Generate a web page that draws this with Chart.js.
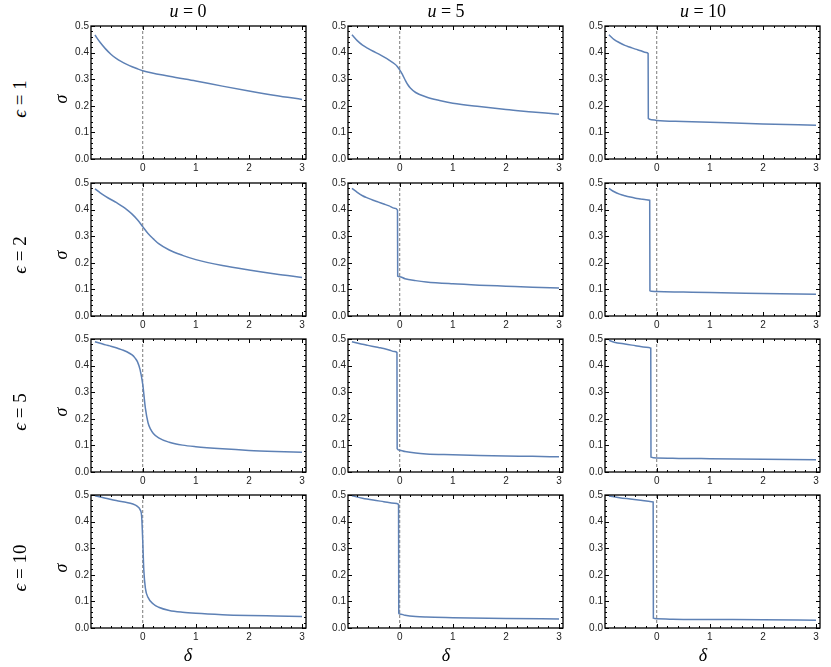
<!DOCTYPE html>
<html>
<head>
<meta charset="utf-8">
<script src="https://cdn.jsdelivr.net/npm/chart.js@4.4.1/dist/chart.umd.min.js"></script>
<style>
    body { margin: 0; background: #fff; }
    #page { position: relative; width: 831px; height: 667px; overflow: hidden; }
    .panel { position: absolute; }
    .lbl {
        position: absolute;
        font-family: "Liberation Serif", "DejaVu Serif", serif;
        font-size: 17px;
        color: #000;
        white-space: nowrap;
        transform: translate(-50%, -50%);
    }
    .rot { transform: translate(-50%, -50%) rotate(-90deg); }
</style>
</head>
<body>
<div id="page"></div>
<script>
// column / row parameters
const uValues = [0, 5, 10];
const epsValues = [1, 2, 5, 10];

// tick labels
const xTickValues = [0, 1, 2, 3];
const yTickValues = [0, 0.1, 0.2, 0.3, 0.4, 0.5];

// sigma(delta) curves, one pair of arrays per panel
const deltaE1U0 = [-0.9, -0.8, -0.7, -0.6, -0.5, -0.4, -0.3, -0.2, -0.1, 0, 0.5, 1, 1.5, 2, 2.5, 3];
const sigmaE1U0 = [0.466, 0.438, 0.414, 0.394, 0.378, 0.366, 0.356, 0.347, 0.339, 0.332, 0.311, 0.293, 0.274, 0.256, 0.239, 0.224];

const deltaE1U5 = [-0.9, -0.8, -0.7, -0.6, -0.5, -0.4, -0.3, -0.2, -0.1, -0.05, 0, 0.05, 0.1, 0.15, 0.2, 0.3, 0.5, 0.75, 1, 1.5, 2, 2.5, 3];
const sigmaE1U5 = [0.467, 0.445, 0.428, 0.416, 0.405, 0.395, 0.384, 0.372, 0.358, 0.349, 0.335, 0.318, 0.298, 0.28, 0.267, 0.25, 0.233, 0.22, 0.21, 0.197, 0.186, 0.177, 0.168];

const deltaE1U10 = [-0.9, -0.8, -0.7, -0.6, -0.5, -0.4, -0.3, -0.2, -0.162, -0.158, -0.1, 0, 0.5, 1, 2, 3];
const sigmaE1U10 = [0.467, 0.449, 0.437, 0.427, 0.42, 0.413, 0.407, 0.4, 0.397, 0.152, 0.148, 0.145, 0.141, 0.138, 0.132, 0.127];

const deltaE2U0 = [-0.9, -0.8, -0.7, -0.6, -0.5, -0.4, -0.3, -0.2, -0.1, 0, 0.1, 0.2, 0.3, 0.5, 0.75, 1, 1.5, 2, 2.5, 3];
const sigmaE2U0 = [0.478, 0.463, 0.45, 0.438, 0.427, 0.414, 0.4, 0.383, 0.362, 0.336, 0.31, 0.29, 0.272, 0.248, 0.228, 0.212, 0.19, 0.173, 0.158, 0.145];

const deltaE2U5 = [-0.9, -0.8, -0.7, -0.6, -0.5, -0.4, -0.3, -0.2, -0.1, -0.042, -0.038, 0, 0.1, 0.3, 0.5, 1, 1.5, 2, 2.5, 3];
const sigmaE2U5 = [0.48, 0.465, 0.452, 0.443, 0.435, 0.428, 0.421, 0.414, 0.405, 0.398, 0.15, 0.148, 0.14, 0.133, 0.128, 0.121, 0.116, 0.112, 0.108, 0.105];

const deltaE2U10 = [-0.9, -0.8, -0.7, -0.6, -0.5, -0.4, -0.3, -0.2, -0.132, -0.128, -0.1, 0, 0.5, 1, 2, 3];
const sigmaE2U10 = [0.48, 0.467, 0.458, 0.452, 0.447, 0.443, 0.44, 0.437, 0.435, 0.095, 0.093, 0.092, 0.09, 0.088, 0.085, 0.082];

const deltaE5U0 = [-0.9, -0.8, -0.7, -0.6, -0.5, -0.4, -0.3, -0.2, -0.15, -0.1, -0.05, 0, 0.05, 0.1, 0.15, 0.2, 0.3, 0.5, 0.75, 1, 1.5, 2, 2.5, 3];
const sigmaE5U0 = [0.49, 0.484, 0.478, 0.473, 0.467, 0.46, 0.452, 0.44, 0.43, 0.415, 0.385, 0.33, 0.24, 0.185, 0.16, 0.145, 0.128, 0.112, 0.101, 0.095, 0.087, 0.081, 0.077, 0.074];

const deltaE5U5 = [-0.9, -0.8, -0.7, -0.6, -0.5, -0.4, -0.3, -0.2, -0.1, -0.052, -0.048, 0, 0.1, 0.3, 0.5, 1, 1.5, 2, 2.5, 3];
const sigmaE5U5 = [0.49, 0.485, 0.48, 0.476, 0.472, 0.468, 0.464, 0.459, 0.453, 0.449, 0.088, 0.082, 0.077, 0.071, 0.068, 0.065, 0.062, 0.06, 0.059, 0.057];

const deltaE5U10 = [-0.9, -0.8, -0.6, -0.4, -0.2, -0.112, -0.108, 0, 0.5, 1, 2, 3];
const sigmaE5U10 = [0.495, 0.488, 0.481, 0.475, 0.469, 0.466, 0.056, 0.053, 0.051, 0.05, 0.048, 0.046];

const deltaE10U0 = [-0.9, -0.7, -0.5, -0.3, -0.2, -0.1, -0.05, -0.02, 0, 0.02, 0.05, 0.1, 0.2, 0.3, 0.5, 0.75, 1, 1.5, 2, 2.5, 3];
const sigmaE10U0 = [0.497, 0.488, 0.479, 0.472, 0.467, 0.457, 0.445, 0.42, 0.33, 0.22, 0.15, 0.115, 0.09, 0.078, 0.066, 0.059, 0.055, 0.05, 0.047, 0.045, 0.043];

const deltaE10U5 = [-0.9, -0.7, -0.5, -0.3, -0.1, -0.022, -0.018, 0, 0.1, 0.3, 0.5, 1, 2, 3];
const sigmaE10U5 = [0.497, 0.488, 0.481, 0.475, 0.469, 0.465, 0.056, 0.053, 0.048, 0.043, 0.041, 0.039, 0.036, 0.034];

const deltaE10U10 = [-0.9, -0.7, -0.5, -0.3, -0.1, -0.067, -0.063, 0, 0.3, 1, 2, 3];
const sigmaE10U10 = [0.496, 0.49, 0.485, 0.48, 0.475, 0.474, 0.037, 0.035, 0.033, 0.032, 0.031, 0.029];

// rows follow epsValues, columns follow uValues
const panels = [
    [[deltaE1U0, sigmaE1U0], [deltaE1U5, sigmaE1U5], [deltaE1U10, sigmaE1U10]],
    [[deltaE2U0, sigmaE2U0], [deltaE2U5, sigmaE2U5], [deltaE2U10, sigmaE2U10]],
    [[deltaE5U0, sigmaE5U0], [deltaE5U5, sigmaE5U5], [deltaE5U10, sigmaE5U10]],
    [[deltaE10U0, sigmaE10U0], [deltaE10U5, sigmaE10U5], [deltaE10U10, sigmaE10U10]],
];

// layout (frame positions in page pixels)
const frameLefts = [91, 348, 605];
const frameTops = [26, 183, 339, 495];
const FRAME_W = 215, FRAME_H = 133;
const AXIS_W = 30, AXIS_H = 18, PAD_T = 8, PAD_R = 8;
const X_MIN = -0.974, X_MAX = 3.075;

const LINE_COLOR = '#5E81B5';

// frame with inward major/minor ticks on all four sides
const frameTicks = {
    id: 'frameTicks',
    afterDatasetsDraw(chart) {
        const { ctx, chartArea: a } = chart;
        const sx = chart.scales.x, sy = chart.scales.y;
        ctx.save();
        ctx.strokeStyle = '#000';
        ctx.lineWidth = 1;
        ctx.beginPath();
        const xTick = (v, len) => {
            const px = Math.round(sx.getPixelForValue(v)) + 0.5;
            ctx.moveTo(px, a.bottom); ctx.lineTo(px, a.bottom - len);
            ctx.moveTo(px, a.top); ctx.lineTo(px, a.top + len);
        };
        const yTick = (v, len) => {
            const py = Math.round(sy.getPixelForValue(v)) + 0.5;
            ctx.moveTo(a.left, py); ctx.lineTo(a.left + len, py);
            ctx.moveTo(a.right, py); ctx.lineTo(a.right - len, py);
        };
        for (let i = -4; i <= 15; i++) {
            const v = i / 5;
            if (i % 5 === 0) xTick(v, 4); else xTick(v, 2);
        }
        for (let i = 1; i < 25; i++) {
            if (i % 5 !== 0) yTick(i / 50, 2);
        }
        yTickValues.forEach(v => yTick(v, 4));
        ctx.stroke();
        ctx.lineWidth = 1.3;
        ctx.strokeRect(a.left, a.top, a.right - a.left, a.bottom - a.top);
        ctx.restore();
    }
};

const page = document.getElementById('page');

function addLabel(html, left, top, rotate, size) {
    const el = document.createElement('div');
    el.className = rotate ? 'lbl rot' : 'lbl';
    el.innerHTML = html;
    el.style.left = left + 'px';
    el.style.top = top + 'px';
    if (size) el.style.fontSize = size + 'px';
    page.appendChild(el);
}

function makePanel(row, col) {
    const [deltas, sigmas] = panels[row][col];
    const canvas = document.createElement('canvas');
    canvas.className = 'panel';
    canvas.width = AXIS_W + FRAME_W + PAD_R;
    canvas.height = PAD_T + FRAME_H + AXIS_H;
    canvas.style.left = (frameLefts[col] - AXIS_W) + 'px';
    canvas.style.top = (frameTops[row] - PAD_T) + 'px';
    page.appendChild(canvas);

    new Chart(canvas, {
        type: 'scatter',
        data: {
            datasets: [
                {
                    data: deltas.map((d, i) => ({ x: d, y: sigmas[i] })),
                    showLine: true,
                    borderColor: LINE_COLOR,
                    borderWidth: 1.5,
                    pointRadius: 0,
                    cubicInterpolationMode: 'monotone',
                    fill: false,
                },
                {
                    data: [{ x: 0, y: 0 }, { x: 0, y: 0.5 }],
                    showLine: true,
                    borderColor: '#7a7a7a',
                    borderWidth: 1,
                    borderDash: [3, 2],
                    pointRadius: 0,
                },
            ],
        },
        options: {
            responsive: false,
            animation: false,
            events: [],
            devicePixelRatio: 1,
            layout: { padding: { top: PAD_T, right: PAD_R, left: 0, bottom: 0 } },
            plugins: { legend: { display: false }, tooltip: { enabled: false } },
            scales: {
                x: {
                    type: 'linear',
                    min: X_MIN,
                    max: X_MAX,
                    grid: { display: false, drawTicks: false },
                    border: { display: false },
                    afterBuildTicks: s => { s.ticks = xTickValues.map(v => ({ value: v })); },
                    afterFit: s => { s.height = AXIS_H; },
                    ticks: {
                        padding: 3,
                        color: '#222',
                        font: { family: 'Liberation Sans, Arial, sans-serif', size: 10 },
                        callback: v => String(v),
                    },
                },
                y: {
                    type: 'linear',
                    min: 0,
                    max: 0.5,
                    grid: { display: false, drawTicks: false },
                    border: { display: false },
                    afterBuildTicks: s => { s.ticks = yTickValues.map(v => ({ value: v })); },
                    afterFit: s => { s.width = AXIS_W; },
                    ticks: {
                        padding: 2,
                        color: '#222',
                        font: { family: 'Liberation Sans, Arial, sans-serif', size: 10 },
                        callback: v => v.toFixed(1),
                    },
                },
            },
        },
        plugins: [frameTicks],
    });
}

for (let r = 0; r < epsValues.length; r++) {
    for (let c = 0; c < uValues.length; c++) {
        makePanel(r, c);
    }
}

// column titles, row labels, axis labels
const colCenters = [188, 446, 703];
const rowCenters = [99, 255, 412, 568];
uValues.forEach((u, c) => addLabel('<i>u</i> = ' + u, colCenters[c], 11, false, 18));
epsValues.forEach((e, r) => {
    addLabel('<i>\u03F5</i> = ' + e, 20, rowCenters[r], true, 19);
    addLabel('<i>\u03C3</i>', 61, rowCenters[r], true, 18);
});
colCenters.forEach(cx => addLabel('<i>\u03B4</i>', cx, 655, false, 18));
</script>
</body>
</html>
